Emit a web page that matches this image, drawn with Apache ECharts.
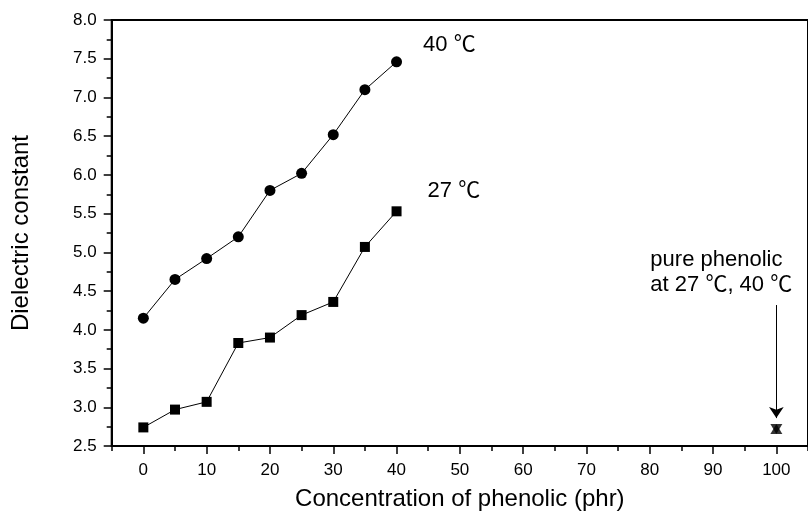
<!DOCTYPE html>
<html><head><meta charset="utf-8">
<script src="https://cdn.jsdelivr.net/npm/echarts@6/dist/echarts.min.js"></script>
<style>html,body{margin:0;padding:0;background:#fff}#c{width:808px;height:521px}</style>
</head><body><div id="c"></div>
<script>
// ---- data ----
const concentration = [0, 5, 10, 15, 20, 25, 30, 35, 40];
const dk40 = [4.15, 4.65, 4.92, 5.20, 5.80, 6.02, 6.52, 7.10, 7.46];
const dk27 = [2.74, 2.97, 3.07, 3.83, 3.90, 4.19, 4.36, 5.07, 5.53];
const pureConc = [100];
const pure27 = [2.72];
const pure40 = [2.72];
const xTickLabels = [0, 10, 20, 30, 40, 50, 60, 70, 80, 90, 100];
const seriesNames = ['40 ℃', '27 ℃'];
const pureText = ['pure phenolic', 'at 27 ℃, 40 ℃'];
const arrowFrom = 4.32, arrowTo = 2.86;
const xTitle = 'Concentration of phenolic (phr)';
const yTitle = 'Dielectric constant';

const FONT = '"Liberation Sans", Arial, "Noto Sans CJK SC", sans-serif';
const BLACK = '#000';

function pairs(xs, ys) { return xs.map((x, i) => [x, ys[i]]); }
function lastLabel(arr, text, off) {
  return arr.map((p, i) => i === arr.length - 1
    ? { value: p, label: { show: true, formatter: text, position: 'right', offset: off,
        color: BLACK, fontSize: 22, fontFamily: FONT } }
    : p);
}

const gridRect = { left: 111.7, top: 20, right: -3.3, bottom: 75, containLabel: false };
const chart = echarts.init(document.getElementById('c'), null, { renderer: 'canvas' });

const option = {
  animation: false,
  backgroundColor: '#fff',
  textStyle: { fontFamily: FONT, color: BLACK },
  grid: [
    Object.assign({ show: true, borderColor: BLACK, borderWidth: 2, backgroundColor: 'transparent' }, gridRect),
    Object.assign({ show: false }, gridRect)
  ],
  xAxis: [
    {
      type: 'value', gridIndex: 0, min: -5, max: 105,
      name: xTitle, nameLocation: 'middle', nameGap: 41,
      nameTextStyle: { fontSize: 24, color: BLACK, fontFamily: FONT },
      axisLine: { show: true, onZero: false, lineStyle: { color: BLACK, width: 2 } },
      axisTick: { show: true, inside: false, length: 8, customValues: xTickLabels, lineStyle: { color: BLACK, width: 1.5 } },
      axisLabel: { show: true, customValues: xTickLabels, margin: 16, fontSize: 17, color: BLACK, fontFamily: FONT },
      splitLine: { show: false }
    },
    {
      type: 'value', gridIndex: 1, min: -5, max: 105, interval: 5,
      axisLine: { show: false },
      axisTick: { show: true, inside: false, length: 5, lineStyle: { color: BLACK, width: 1.5 } },
      axisLabel: { show: false },
      splitLine: { show: false }
    }
  ],
  yAxis: [
    {
      type: 'value', gridIndex: 0, min: 2.5, max: 8.0, interval: 0.5,
      name: yTitle, nameLocation: 'middle', nameGap: 78, nameRotate: 90,
      nameTextStyle: { fontSize: 24, color: BLACK, fontFamily: FONT },
      axisLine: { show: true, onZero: false, lineStyle: { color: BLACK, width: 2 } },
      axisTick: { show: true, inside: false, length: 8, lineStyle: { color: BLACK, width: 1.5 } },
      minorTick: { show: true, splitNumber: 2, length: 5, lineStyle: { color: BLACK, width: 1.5 } },
      axisLabel: { margin: 15, fontSize: 17, color: BLACK, fontFamily: FONT, formatter: v => v.toFixed(1) },
      splitLine: { show: false }
    },
    {
      type: 'value', gridIndex: 1, min: 2.5, max: 8.0, show: false
    }
  ],
  series: [
    {
      name: seriesNames[0], type: 'line', xAxisIndex: 0, yAxisIndex: 0,
      data: lastLabel(pairs(concentration, dk40), seriesNames[0], [16, -17]),
      symbol: 'circle', symbolSize: 11,
      itemStyle: { color: BLACK }, lineStyle: { color: BLACK, width: 1 }
    },
    {
      name: seriesNames[1], type: 'line', xAxisIndex: 0, yAxisIndex: 0,
      data: lastLabel(pairs(concentration, dk27), seriesNames[1], [21, -20]),
      symbol: 'rect', symbolSize: 10,
      itemStyle: { color: BLACK }, lineStyle: { color: BLACK, width: 1 }
    },
    {
      name: 'pure 27', type: 'scatter', xAxisIndex: 0, yAxisIndex: 0,
      data: pairs(pureConc, pure27),
      symbol: 'triangle', symbolSize: [12, 10],
      itemStyle: { color: BLACK },
      markLine: {
        silent: true, animation: false,
        symbol: ['none', 'arrow'], symbolSize: 11,
        lineStyle: { color: BLACK, width: 1, type: 'solid' },
        label: { show: false },
        data: [[{ coord: [pureConc[0], arrowFrom] }, { coord: [pureConc[0], arrowTo] }]]
      }
    },
    {
      name: 'pure 40', type: 'scatter', xAxisIndex: 0, yAxisIndex: 0,
      data: pairs(pureConc, pure40),
      symbol: 'triangle', symbolRotate: 180, symbolSize: [12, 10],
      itemStyle: { color: BLACK }
    }
  ]
};
chart.setOption(option);

// annotation text for the pure phenolic point, anchored to the data coordinate
const anchor = chart.convertToPixel({ gridIndex: 0 }, [pureConc[0], arrowFrom]);
chart.setOption({
  graphic: [{
    type: 'text', left: anchor[0] - 126, top: anchor[1] - 58,
    style: { text: pureText.join('\n'), font: '22px ' + FONT, fill: BLACK, lineHeight: 25 }
  }]
});
</script></body></html>
